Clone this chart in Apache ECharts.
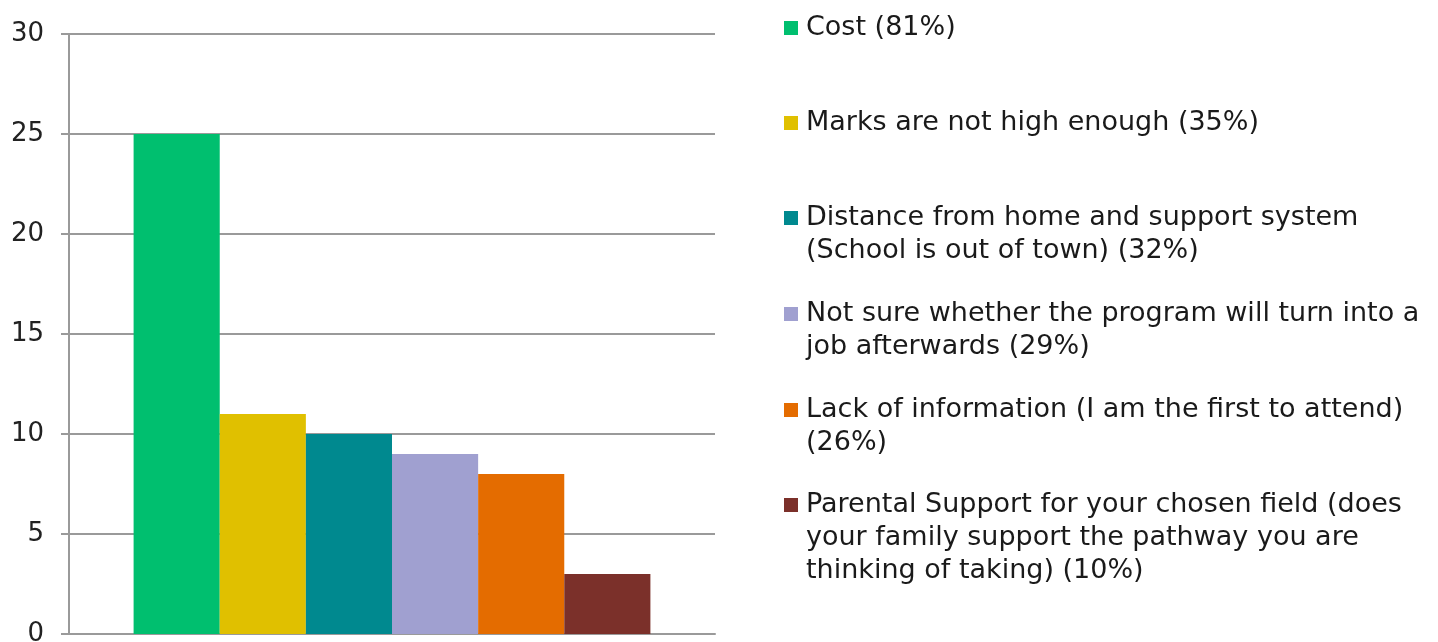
<!DOCTYPE html>
<html>
<head>
<meta charset="utf-8">
<script src="https://cdn.jsdelivr.net/npm/echarts@6/dist/echarts.min.js"></script>
<style>
  html, body { margin: 0; padding: 0; background: #ffffff; }
  #chart { width: 1438px; height: 642px; }
</style>
</head>
<body>
<div id="chart"></div>
<script>
// Reasons given for not attending (count of responses)
const reasons = [
  'Cost (81%)',
  'Marks are not high enough (35%)',
  'Distance from home and support system\n(School is out of town) (32%)',
  'Not sure whether the program will turn into a\njob afterwards (29%)',
  'Lack of information (I am the first to attend)\n(26%)',
  'Parental Support for your chosen field (does\nyour family support the pathway you are\nthinking of taking) (10%)'
];
const counts = [25, 11, 10, 9, 8, 3];
const colors = ['#00bf6f', '#e0c000', '#00898f', '#a0a0d0', '#e46c00', '#7b302a'];
const yTicks = { min: 0, max: 30, interval: 5 };

const FONT = 'DejaVu Sans, Verdana, sans-serif';
const LINE_H = 33;
const legendTops = [31, 126, 221, 317, 413, 508]; // centre of each entry's first line

const series = reasons.map((name, i) => ({
  name: name,
  type: 'bar',
  data: [counts[i]],
  itemStyle: { color: colors[i] },
  barGap: '0%',
  barCategoryGap: '20%'
}));

// One legend per entry so each can sit at its own slot; the colour square
// is a rich-text box aligned with the first line of the label.
const legends = reasons.map((name, i) => ({
  data: [name],
  icon: 'none',
  itemWidth: 0,
  itemHeight: 0,
  padding: 0,
  left: 779,
  top: legendTops[i] - LINE_H / 2,
  orient: 'vertical',
  selectedMode: false,
  formatter: function (n) {
    const lines = n.split('\n');
    return lines.map((l, k) => (k === 0 ? '{sq|}{gap|}' : '{ind|}') + '{t|' + l + '}').join('\n');
  },
  textStyle: {
    rich: {
      sq: { width: 14, height: 14, backgroundColor: colors[i] },
      gap: { width: 8 },
      ind: { width: 22 },
      t: { fontFamily: FONT, fontSize: 27, color: '#1a1a1a', lineHeight: LINE_H }
    }
  }
}));

const chart = echarts.init(document.getElementById('chart'), null, { renderer: 'canvas' });
chart.setOption({
  animation: false,
  backgroundColor: '#ffffff',
  grid: { left: 69, right: 723, top: 34, bottom: 8, containLabel: false, outerBoundsMode: 'none' },
  legend: legends,
  xAxis: {
    type: 'category',
    data: [''],
    axisLine: { show: true, lineStyle: { color: '#9a9a9a', width: 2 } },
    axisTick: { show: false },
    axisLabel: { show: false }
  },
  yAxis: {
    type: 'value',
    min: yTicks.min,
    max: yTicks.max,
    interval: yTicks.interval,
    axisLine: { show: true, lineStyle: { color: '#9a9a9a', width: 2 } },
    axisTick: { show: true, inside: false, length: 8, lineStyle: { color: '#9a9a9a', width: 2 } },
    axisLabel: { margin: 25, fontFamily: FONT, fontSize: 26, color: '#222222' },
    splitLine: { show: true, lineStyle: { color: '#9a9a9a', width: 2 } }
  },
  series: series
});
</script>
</body>
</html>
